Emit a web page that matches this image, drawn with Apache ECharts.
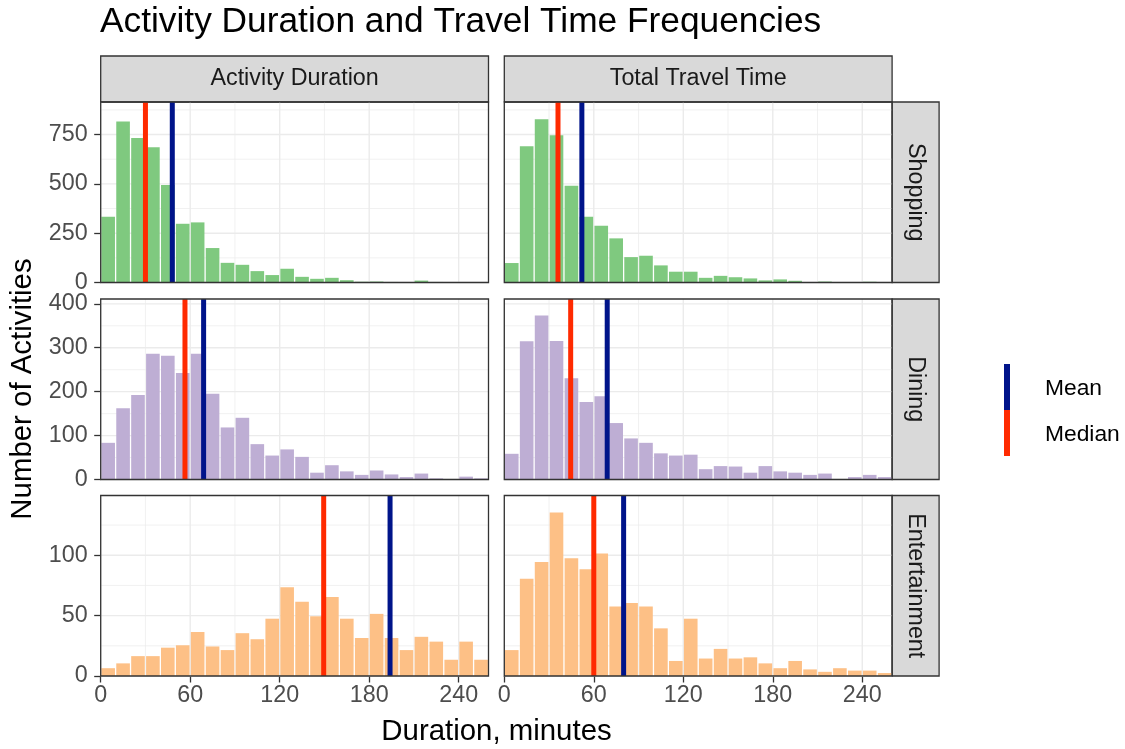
<!DOCTYPE html>
<html>
<head>
<meta charset="utf-8">
<title>Activity Duration and Travel Time Frequencies</title>
<script src="https://cdn.jsdelivr.net/npm/echarts@6/dist/echarts.min.js"></script>
<style>
html, body { margin: 0; padding: 0; background: #fff; }
#chart { width: 1125px; height: 749px; }
</style>
</head>
<body>
<div id="chart"></div>
<script>
// 10 minute bins
var binStarts = [0, 10, 20, 30, 40, 50, 60, 70, 80, 90, 100, 110, 120, 130, 140, 150, 160, 170, 180, 190, 200, 210, 220, 230, 240, 250];
var binWidth = 10;

var shoppingDuration = [337, 819, 736, 689, 498, 301, 308, 178, 103, 93, 61, 41, 73, 32, 22, 27, 15, 7, 8, 6, 2, 13, 6, 0, 0, 0];
var shoppingTravel = [102, 694, 831, 750, 494, 337, 291, 227, 132, 139, 90, 58, 58, 27, 37, 30, 24, 14, 19, 12, 5, 8, 2, 2, 7, 1];
var diningDuration = [85, 164, 194, 288, 283, 244, 288, 197, 120, 142, 82, 56, 70, 53, 17, 34, 20, 12, 22, 13, 7, 15, 4, 0, 8, 4];
var diningTravel = [60, 316, 375, 317, 232, 178, 191, 130, 95, 85, 61, 56, 58, 25, 32, 31, 17, 32, 20, 17, 12, 15, 2, 7, 12, 7];
var entertainmentDuration = [7, 11, 17, 17, 24, 26, 37, 25, 22, 36, 31, 48, 74, 62, 50, 66, 48, 32, 52, 32, 22, 33, 29, 14, 29, 14];
var entertainmentTravel = [22, 81, 95, 136, 98, 89, 102, 58, 61, 58, 40, 13, 48, 15, 23, 15, 16, 11, 7, 13, 6, 4, 7, 5, 5, 3];

// order: shopping dur, shopping travel, dining dur, dining travel, ent dur, ent travel
var meanValues = [48, 52, 69, 69, 194, 80];
var medianValues = [30, 36, 56.5, 44.5, 149.5, 60];

var colLabels = ['Activity Duration', 'Total Travel Time'];
var rowLabels = ['Shopping', 'Dining', 'Entertainment'];

var xTicks = [0, 60, 120, 180, 240];
var xMinor = [30, 90, 150, 210];
var xMax = 260;
var yTicks = [[0, 250, 500, 750], [0, 100, 200, 300, 400], [0, 50, 100]];
var yMinor = [[125, 375, 625, 875], [50, 150, 250, 350], [25, 75, 125]];
var yMax = [915, 411, 149.5];

var barColors = ['#7FC97F', '#BEAED4', '#FDC086'];
var meanColor = '#00148A';
var medianColor = '#FF2A00';

var panelData = [shoppingDuration, shoppingTravel, diningDuration, diningTravel, entertainmentDuration, entertainmentTravel];

var FONT = '"Liberation Sans", Arial, Helvetica, sans-serif';
var SMALL = 23.3;
var colLeft = [100.7, 504.3];
var colWidth = 387.8;
var rowTop = [102, 299, 495.5];
var rowHeight = 180.5;

var chart = echarts.init(document.getElementById('chart'), null, { renderer: 'canvas' });

function renderBar(params, api) {
  var y = api.value(2);
  if (y <= 0) return null;
  var p0 = api.coord([api.value(0), y]);
  var p1 = api.coord([api.value(1), 0]);
  var gap = 0.65;
  return {
    type: 'rect',
    shape: { x: p0[0] + gap, y: p0[1] + gap, width: p1[0] - p0[0] - 2 * gap, height: p1[1] - p0[1] - gap },
    style: { fill: api.visual('color') }
  };
}

function vLine(color, width) {
  return function (params, api) {
    var cs = params.coordSys;
    var x = api.coord([api.value(0), 0])[0];
    return { type: 'line', shape: { x1: x, y1: cs.y, x2: x, y2: cs.y + cs.height }, style: { stroke: color, lineWidth: width } };
  };
}

function hLine(color, width) {
  return function (params, api) {
    var cs = params.coordSys;
    var y = api.coord([0, api.value(1)])[1];
    return { type: 'line', shape: { x1: cs.x, y1: y, x2: cs.x + cs.width, y2: y }, style: { stroke: color, lineWidth: width } };
  };
}

function renderFrame(params, api) {
  var cs = params.coordSys;
  return { type: 'rect', shape: { x: cs.x, y: cs.y, width: cs.width, height: cs.height }, style: { fill: null, stroke: '#333333', lineWidth: 1.3 } };
}

var grids = [], xAxes = [], yAxes = [], series = [];

for (var i = 0; i < 6; i++) {
  var row = Math.floor(i / 2), col = i % 2;
  grids.push({ left: colLeft[col], top: rowTop[row], width: colWidth, height: rowHeight, show: false });
  xAxes.push({
    type: 'value', gridIndex: i, min: 0, max: xMax,
    axisLine: { show: false },
    axisTick: { show: row === 2, customValues: xTicks, length: 6.5, lineStyle: { color: '#333333', width: 1.3 } },
    axisLabel: { show: row === 2, customValues: xTicks, margin: 8, color: '#4D4D4D', fontSize: SMALL, fontFamily: FONT },
    splitLine: { show: false }
  });
  yAxes.push({
    type: 'value', gridIndex: i, min: 0, max: yMax[row],
    axisLine: { show: false },
    axisTick: { show: col === 0, customValues: yTicks[row], length: 6.5, lineStyle: { color: '#333333', width: 1.3 } },
    axisLabel: { show: col === 0, customValues: yTicks[row], margin: 13, color: '#4D4D4D', fontSize: SMALL, fontFamily: FONT },
    splitLine: { show: false }
  });

  var common = { xAxisIndex: i, yAxisIndex: i, silent: true };
  series.push(Object.assign({ type: 'custom', z: 1, renderItem: vLine('#EBEBEB', 0.7),
    data: xMinor.map(function (v) { return [v, 0]; }) }, common));
  series.push(Object.assign({ type: 'custom', z: 1, renderItem: hLine('#EBEBEB', 0.7),
    data: yMinor[row].map(function (v) { return [0, v]; }) }, common));
  series.push(Object.assign({ type: 'custom', z: 1, renderItem: vLine('#EBEBEB', 1.4),
    data: xTicks.map(function (v) { return [v, 0]; }) }, common));
  series.push(Object.assign({ type: 'custom', z: 1, renderItem: hLine('#EBEBEB', 1.4),
    data: yTicks[row].map(function (v) { return [0, v]; }) }, common));

  var vals = panelData[i];
  series.push(Object.assign({
    type: 'custom', z: 2, renderItem: renderBar,
    itemStyle: { color: barColors[row] },
    encode: { x: [0, 1], y: 2 },
    data: binStarts.map(function (s, k) { return [s, s + binWidth, vals[k]]; })
  }, common));

  series.push(Object.assign({ type: 'custom', name: 'Mean', z: 3, renderItem: vLine(meanColor, 5),
    data: [[meanValues[i], 0]] }, common));
  series.push(Object.assign({ type: 'custom', name: 'Median', z: 3, renderItem: vLine(medianColor, 5),
    data: [[medianValues[i], 0]] }, common));
  series.push(Object.assign({ type: 'custom', z: 4, renderItem: renderFrame, data: [[0, 0]] }, common));
}

var graphics = [];
graphics.push({
  type: 'text', x: 100, y: 22,
  style: { text: 'Activity Duration and Travel Time Frequencies', font: '35.3px ' + FONT, fill: '#000', textAlign: 'left', textVerticalAlign: 'middle' }
});
colLabels.forEach(function (lab, c) {
  graphics.push({ type: 'rect', shape: { x: colLeft[c], y: 56, width: colWidth, height: 46 },
    style: { fill: '#D9D9D9', stroke: '#333333', lineWidth: 1.3 } });
  graphics.push({ type: 'text', x: colLeft[c] + colWidth / 2, y: 79,
    style: { text: lab, font: SMALL + 'px ' + FONT, fill: '#1A1A1A', textAlign: 'center', textVerticalAlign: 'middle' } });
});
rowLabels.forEach(function (lab, r) {
  var sx = colLeft[1] + colWidth, sw = 47;
  graphics.push({ type: 'rect', shape: { x: sx, y: rowTop[r], width: sw, height: rowHeight },
    style: { fill: '#D9D9D9', stroke: '#333333', lineWidth: 1.3 } });
  graphics.push({ type: 'text', x: sx + sw / 2, y: rowTop[r] + rowHeight / 2, rotation: -Math.PI / 2,
    style: { text: lab, font: SMALL + 'px ' + FONT, fill: '#1A1A1A', textAlign: 'center', textVerticalAlign: 'middle' } });
});
graphics.push({ type: 'text', x: 23, y: 389, rotation: Math.PI / 2,
  style: { text: 'Number of Activities', font: '29.4px ' + FONT, fill: '#000', textAlign: 'center', textVerticalAlign: 'middle' } });
graphics.push({ type: 'text', x: 496.5, y: 732,
  style: { text: 'Duration, minutes', font: '29.4px ' + FONT, fill: '#000', textAlign: 'center', textVerticalAlign: 'middle' } });

// legend
graphics.push({ type: 'rect', shape: { x: 1004, y: 364, width: 6, height: 46 }, style: { fill: meanColor } });
graphics.push({ type: 'rect', shape: { x: 1004, y: 410, width: 6, height: 46 }, style: { fill: medianColor } });
graphics.push({ type: 'text', x: 1045, y: 389, style: { text: 'Mean', font: '22.8px ' + FONT, fill: '#000', textAlign: 'left', textVerticalAlign: 'middle' } });
graphics.push({ type: 'text', x: 1045, y: 435, style: { text: 'Median', font: '22.8px ' + FONT, fill: '#000', textAlign: 'left', textVerticalAlign: 'middle' } });

chart.setOption({
  animation: false,
  backgroundColor: '#fff',
  grid: grids,
  xAxis: xAxes,
  yAxis: yAxes,
  series: series,
  graphic: graphics
});
</script>
</body>
</html>
